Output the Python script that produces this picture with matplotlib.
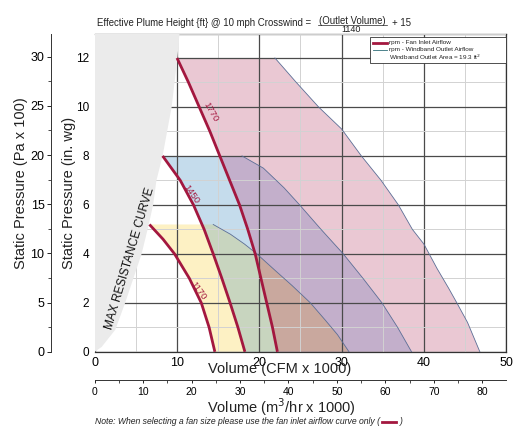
import numpy as np
import matplotlib
matplotlib.use("Agg")
import matplotlib.pyplot as plt
from matplotlib.lines import Line2D
from matplotlib.patches import Rectangle
from matplotlib.ticker import MultipleLocator

plt.rcParams["font.family"] = ["Liberation Sans", "DejaVu Sans"]

CRIMSON = "#A3173F"
SLATE = "#5B6E96"
GREYFILL = "#EBEBEB"
YELLOW = "#FDF1C4"
BLUE = "#C5DCEC"
GREEN = "#C8D5BF"
PINK = "#EAC8D3"
PURPLE = "#C3AFCB"
BROWN = "#C9A89E"
INK = "#222222"

# ---- data (CFM x 1000, in. wg) ----
RPM = ["1170", "1450", "1770"]

inlet_1170_x = [6.65, 8.3, 9.7, 11.5, 12.95, 13.9, 14.6]
inlet_1170_y = [5.2, 4.6, 4.0, 3.0, 2.0, 1.0, 0.0]
inlet_1450_x = [8.25, 10.4, 12.0, 13.3, 14.4, 15.45, 16.45, 17.4, 18.25]
inlet_1450_y = [8.0, 7.0, 6.0, 5.0, 4.0, 3.0, 2.0, 1.0, 0.0]
inlet_1770_x = [10.0, 11.4, 12.7, 14.0, 15.2, 16.4, 17.6, 18.6, 19.5, 20.2, 20.9, 21.6, 22.2]
inlet_1770_y = [12.0, 11.0, 10.0, 9.0, 8.0, 7.0, 6.0, 5.0, 4.0, 3.0, 2.0, 1.0, 0.0]

outlet_1170_x = [14.4, 16.5, 18.2, 19.7, 22.0, 24.0, 26.2, 28.0, 29.5, 30.9]
outlet_1170_y = [5.2, 4.8, 4.4, 4.0, 3.3, 2.7, 2.0, 1.3, 0.7, 0.0]
outlet_1450_x = [17.9, 20.5, 23.0, 24.9, 27.5, 30.2, 32.6, 34.9, 36.8, 38.5]
outlet_1450_y = [8.0, 7.5, 6.7, 6.0, 5.0, 4.0, 3.0, 2.0, 1.0, 0.0]
outlet_1770_x = [21.9, 24.5, 27.2, 30.0, 32.4, 34.8, 36.9, 38.6, 40.0, 41.6, 43.0, 44.0, 45.3, 46.8]
outlet_1770_y = [12.0, 11.0, 10.0, 9.1, 8.0, 7.0, 6.0, 5.0, 4.4, 3.4, 2.6, 2.0, 1.2, 0.0]

max_res_x = [0.0, 0.85, 2.5, 3.7, 5.7, 6.5, 7.1, 7.5, 8.25, 9.35, 10.05, 10.3]
max_res_y = [0.0, 0.2, 0.9, 2.0, 4.0, 5.1, 6.0, 7.0, 8.0, 10.0, 12.0, 13.0]

label_pos = [(12.6, 2.5, -54), (11.8, 6.44, -55), (14.1, 9.8, -60)]

PA_PER_INWG = 2.4884      # Pa x 100 per in. wg
M3H_PER_CFM = 1.699       # m3/hr per CFM

W, H = 514, 429


def fx(x):
    return x / W


def fy(y):
    return 1 - y / H


def region(ix, iy, ox, oy):
    return list(ox) + list(ix[::-1]), list(oy) + list(iy[::-1])


fig = plt.figure(figsize=(W / 100, H / 100), dpi=100)
L, R, T, B = 94.7, 506.2, 33.5, 351.8
ax = fig.add_axes([fx(L), fy(B), (R - L) / W, (B - T) / H])
ax.set_xlim(0, 50)
ax.set_ylim(0, 13)

# shaded operating regions (overlaps drawn with clip paths)
yel = ax.fill(*region(inlet_1170_x, inlet_1170_y, outlet_1170_x, outlet_1170_y),
              color=YELLOW, lw=0, zorder=1.0)[0]
blu = ax.fill(*region(inlet_1450_x, inlet_1450_y, outlet_1450_x, outlet_1450_y),
              color=BLUE, lw=0, zorder=1.1)[0]
grn = ax.fill(*region(inlet_1450_x, inlet_1450_y, outlet_1450_x, outlet_1450_y),
              color=GREEN, lw=0, zorder=1.2)[0]
grn.set_clip_path(yel)
pink_xy = region(inlet_1770_x, inlet_1770_y, outlet_1770_x, outlet_1770_y)
ax.fill(*pink_xy, color=PINK, lw=0, zorder=1.3)
pur = ax.fill(*pink_xy, color=PURPLE, lw=0, zorder=1.4)[0]
pur.set_clip_path(blu)
brn = ax.fill(*pink_xy, color=BROWN, lw=0, zorder=1.5)[0]
brn.set_clip_path(yel)

# grid
ax.set_axisbelow(False)
ax.xaxis.set_major_locator(MultipleLocator(10))
ax.xaxis.set_minor_locator(MultipleLocator(5))
ax.yaxis.set_major_locator(MultipleLocator(2))
ax.yaxis.set_minor_locator(MultipleLocator(1))
ax.grid(which="major", color="#4a4a4a", lw=0.9)
ax.grid(which="minor", color="#d2d2d2", lw=0.7)
ax.tick_params(which="both", length=0)
ax.tick_params(axis="x", labelsize=9, pad=4)
ax.tick_params(axis="y", labelsize=8.5, pad=4)
ax.spines["left"].set_visible(False)
for s in ["top", "right", "bottom"]:
    ax.spines[s].set_color("#333333")
    ax.spines[s].set_linewidth(0.9)

# max resistance zone
ax.fill(max_res_x + [0.0], max_res_y + [13.0], color=GREYFILL, lw=0, zorder=2.6)
ax.text(4.29, 3.82, "MAX RESISTANCE CURVE", rotation=73.5, fontsize=8.5,
        ha="center", va="center", rotation_mode="anchor", color="#111111", zorder=5)

# outlet + inlet curves
for ox, oy in [(outlet_1170_x, outlet_1170_y), (outlet_1450_x, outlet_1450_y),
               (outlet_1770_x, outlet_1770_y)]:
    ax.plot(ox, oy, color=SLATE, lw=0.6, zorder=3.5)
for ix, iy in [(inlet_1170_x, inlet_1170_y), (inlet_1450_x, inlet_1450_y),
               (inlet_1770_x, inlet_1770_y)]:
    ax.plot(ix, iy, color=CRIMSON, lw=2.0, solid_capstyle="butt",
            solid_joinstyle="round", zorder=4)
for name, (lx, ly, rot) in zip(RPM, label_pos):
    ax.text(lx, ly, name, rotation=rot, fontsize=6.8, color=CRIMSON, ha="center",
            va="center", rotation_mode="anchor", zorder=5)

# Pa axis
ax_pa = fig.add_axes([fx(50.7), fy(B), 0.0001, (B - T) / H])
ax_pa.set_ylim(0, 13 * PA_PER_INWG)
ax_pa.patch.set_visible(False)
for s in ["top", "right", "bottom"]:
    ax_pa.spines[s].set_visible(False)
ax_pa.spines["left"].set_color("#333333")
ax_pa.spines["left"].set_linewidth(0.7)
ax_pa.set_xticks([])
ax_pa.yaxis.set_major_locator(MultipleLocator(5))
ax_pa.yaxis.set_minor_locator(MultipleLocator(2.5))
ax_pa.tick_params(axis="y", which="major", length=3, width=0.6, labelsize=9, pad=1.5)
ax_pa.tick_params(axis="y", which="minor", length=2, width=0.5)

# m3/hr axis
ax_m3 = fig.add_axes([fx(L), fy(380), (R - L) / W, 0.0001])
ax_m3.set_xlim(0, 50 * M3H_PER_CFM)
ax_m3.patch.set_visible(False)
for s in ["top", "right", "left"]:
    ax_m3.spines[s].set_visible(False)
ax_m3.spines["bottom"].set_color("#333333")
ax_m3.spines["bottom"].set_linewidth(0.7)
ax_m3.set_yticks([])
ax_m3.xaxis.set_major_locator(MultipleLocator(10))
ax_m3.xaxis.set_minor_locator(MultipleLocator(5))
ax_m3.tick_params(axis="x", which="major", length=2.5, width=0.6, labelsize=7.5, pad=2.5)
ax_m3.tick_params(axis="x", which="minor", length=2, width=0.5)

# axis titles
fig.text(fx(20.7), fy(183), "Static Pressure (Pa x 100)", rotation=90,
         fontsize=10.5, ha="center", va="center", color=INK)
fig.text(fx(69), fy(192.5), "Static Pressure (in. wg)", rotation=90,
         fontsize=10.5, ha="center", va="center", color=INK)
fig.text(fx(280), fy(369.5), "Volume (CFM x 1000)", fontsize=10.5,
         ha="center", va="center", color=INK)
fig.text(fx(281.7), fy(407), "Volume (m$^3$/hr x 1000)", fontsize=10.5,
         ha="center", va="center", color=INK)

# title with fraction
fig.text(fx(96.7), fy(22.5), "Effective Plume Height {ft} @ 10 mph Crosswind =",
         fontsize=6.9, ha="left", va="center", color=INK)
fig.text(fx(352.5), fy(20.5), "(Outlet Volume)", fontsize=6.9,
         ha="center", va="center", color=INK)
fig.add_artist(Line2D([fx(318), fx(387)], [fy(25), fy(25)], color=INK, lw=0.5,
                      transform=fig.transFigure))
fig.text(fx(351), fy(29.3), "1140", fontsize=6.5, ha="center", va="center", color=INK)
fig.text(fx(392), fy(23.5), "+ 15", fontsize=6.9, ha="left", va="center", color=INK)

# legend box
fig.patches.append(Rectangle((fx(370), fy(63.3)), (506.2 - 370) / W, (63.3 - 36.7) / H,
                             transform=fig.transFigure, facecolor="white",
                             edgecolor="#333333", lw=0.6, zorder=1))
fig.add_artist(Line2D([fx(373), fx(387)], [fy(42.5), fy(42.5)], color=CRIMSON, lw=2.0,
                      transform=fig.transFigure, zorder=2))
fig.add_artist(Line2D([fx(373), fx(387)], [fy(49.8), fy(49.8)], color="#2E6E78", lw=0.6,
                      transform=fig.transFigure, zorder=2))
legend_lines = ["rpm - Fan Inlet Airflow", "rpm - Windband Outlet Airflow",
                "Windband Outlet Area = 19.3 ft$^2$"]
for i, txt in enumerate(legend_lines):
    fig.text(fx(389.3), fy(42.5 + i * 7.3), txt, fontsize=4.6, ha="left",
             va="center", color=INK)

# footnote
note = fig.text(fx(95), fy(421.5), "Note: When selecting a fan size please use the fan inlet airflow curve only (",
                fontsize=6.2, style="italic", ha="left", va="center", color=INK)
fig.canvas.draw()
bb = note.get_window_extent()
x_end = bb.x1 / fig.bbox.width
dash_w = 14 / W
fig.add_artist(Line2D([x_end + 2 / W, x_end + 2 / W + dash_w], [fy(421.5), fy(421.5)],
                      color=CRIMSON, lw=2.0, transform=fig.transFigure))
fig.text(x_end + 6 / W + dash_w, fy(421.5), ")", fontsize=6.2, style="italic",
         ha="left", va="center", color=INK)

fig.savefig("out.png", dpi=100)
